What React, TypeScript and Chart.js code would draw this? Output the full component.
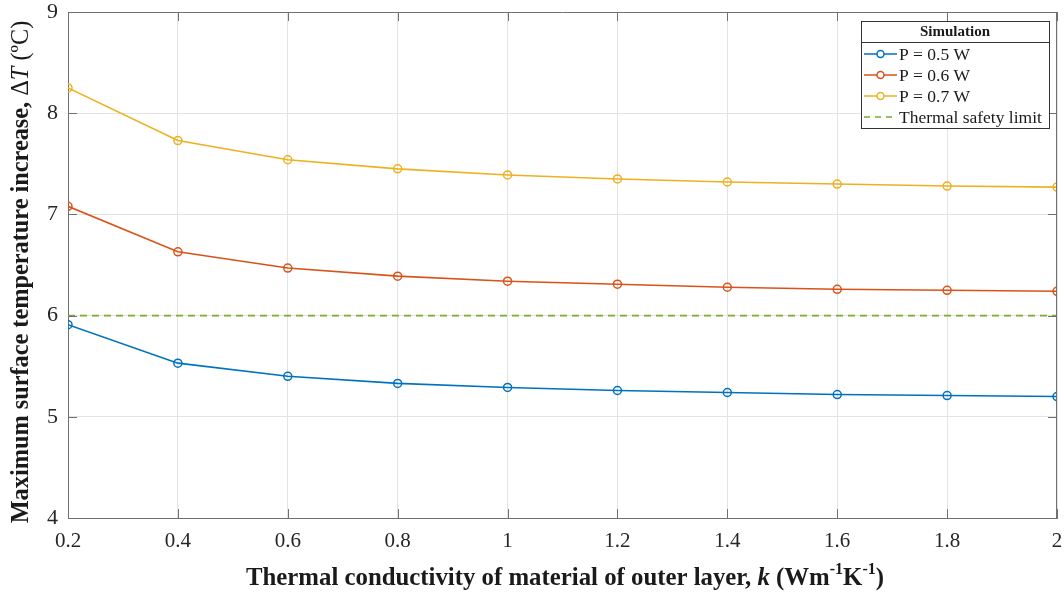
import React, { useEffect, useRef } from "react";
import { Chart, registerables } from "chart.js";

Chart.register(...registerables);

// ---- data ----
const kValues = [0.2, 0.4, 0.6, 0.8, 1.0, 1.2, 1.4, 1.6, 1.8, 2.0];
const p05 = [5.91, 5.53, 5.40, 5.33, 5.29, 5.26, 5.24, 5.22, 5.21, 5.20];
const p06 = [7.08, 6.63, 6.47, 6.39, 6.34, 6.31, 6.28, 6.26, 6.25, 6.24];
const p07 = [8.25, 7.73, 7.54, 7.45, 7.39, 7.35, 7.32, 7.30, 7.28, 7.27];
const safetyLimit = 6;
const xTicks = [0.2, 0.4, 0.6, 0.8, 1, 1.2, 1.4, 1.6, 1.8, 2];
const yTicks = [4, 5, 6, 7, 8, 9];
const seriesNames = ["P = 0.5 W", "P = 0.6 W", "P = 0.7 W", "Thermal safety limit"];
const legendTitle = "Simulation";

const COLORS = ["#0072BD", "#D95319", "#EDB120", "#77AC30"];
const SERIF = "'Liberation Serif', 'Times New Roman', serif";
const AXIS = "#707070";

type Seg = { t: string; w?: string; s?: string; size?: number; dy?: number };

function drawRich(ctx: CanvasRenderingContext2D, segs: Seg[], cx: number, cy: number, base: number) {
  const font = (g: Seg) => `${g.s || "normal"} ${g.w || "normal"} ${g.size || base}px ${SERIF}`;
  let total = 0;
  for (const g of segs) {
    ctx.font = font(g);
    total += ctx.measureText(g.t).width;
  }
  let x = cx - total / 2;
  ctx.textBaseline = "middle";
  ctx.textAlign = "left";
  for (const g of segs) {
    ctx.font = font(g);
    ctx.fillText(g.t, x, cy + (g.dy || 0));
    x += ctx.measureText(g.t).width;
  }
}

const decorPlugin = {
  id: "decor",
  afterDraw(chart: any) {
    const ctx: CanvasRenderingContext2D = chart.ctx;
    const { left, right, top, bottom } = chart.chartArea;
    const xs = chart.scales.x;
    const ys = chart.scales.y;
    ctx.save();
    // box
    ctx.strokeStyle = AXIS;
    ctx.lineWidth = 1;
    ctx.beginPath();
    ctx.moveTo(left, top + 0.5);
    ctx.lineTo(right, top + 0.5);
    ctx.moveTo(right - 0.5, top);
    ctx.lineTo(right - 0.5, bottom);
    ctx.stroke();
    // inward ticks
    const tl = 9;
    ctx.beginPath();
    for (const v of xTicks) {
      const px = Math.round(xs.getPixelForValue(v)) + 0.5;
      ctx.moveTo(px, bottom);
      ctx.lineTo(px, bottom - tl);
      ctx.moveTo(px, top);
      ctx.lineTo(px, top + tl);
    }
    for (const v of yTicks) {
      const py = Math.round(ys.getPixelForValue(v)) + 0.5;
      ctx.moveTo(left, py);
      ctx.lineTo(left + tl, py);
      ctx.moveTo(right, py);
      ctx.lineTo(right - tl, py);
    }
    ctx.stroke();

    // axis titles
    ctx.fillStyle = "#1a1a1a";
    drawRich(
      ctx,
      [
        { t: "Thermal conductivity of material of outer layer, ", w: "bold" },
        { t: "k", w: "bold", s: "italic" },
        { t: " (Wm", w: "bold" },
        { t: "-1", w: "bold", size: 16, dy: -9 },
        { t: "K", w: "bold" },
        { t: "-1", w: "bold", size: 16, dy: -9 },
        { t: ")", w: "bold" },
      ],
      565,
      579,
      24.8
    );
    ctx.save();
    ctx.translate(22, 272);
    ctx.rotate(-Math.PI / 2);
    drawRich(
      ctx,
      [
        { t: "Maximum surface temperature increase, ", w: "bold" },
        { t: "Δ", w: "normal" },
        { t: "T", w: "normal", s: "italic" },
        { t: " (ºC)", w: "normal" },
      ],
      0,
      0,
      24.3
    );
    ctx.restore();

    // legend
    const lx = 861, ly = 21, lw = 188, lh = 107;
    ctx.fillStyle = "#ffffff";
    ctx.fillRect(lx, ly, lw, lh);
    ctx.strokeStyle = "#333";
    ctx.lineWidth = 1;
    ctx.strokeRect(lx + 0.5, ly + 0.5, lw, lh);
    ctx.beginPath();
    ctx.moveTo(lx, ly + 21.5);
    ctx.lineTo(lx + lw, ly + 21.5);
    ctx.stroke();
    ctx.fillStyle = "#1a1a1a";
    ctx.font = `bold 15px ${SERIF}`;
    ctx.textAlign = "center";
    ctx.textBaseline = "middle";
    ctx.fillText(legendTitle, lx + lw / 2, ly + 11);
    const rowsY = [54, 75, 96, 117];
    seriesNames.forEach((name, i) => {
      const y = rowsY[i];
      ctx.strokeStyle = COLORS[i];
      ctx.lineWidth = 1.5;
      ctx.setLineDash(i === 3 ? [6, 5] : []);
      ctx.beginPath();
      ctx.moveTo(864, y);
      ctx.lineTo(897, y);
      ctx.stroke();
      ctx.setLineDash([]);
      if (i < 3) {
        ctx.fillStyle = "#fff";
        ctx.beginPath();
        ctx.arc(880.5, y, 3.5, 0, Math.PI * 2);
        ctx.fill();
        ctx.stroke();
      }
      ctx.fillStyle = "#1a1a1a";
      ctx.font = `17.5px ${SERIF}`;
      ctx.textAlign = "left";
      ctx.fillText(name, 899, y + 1);
    });
    ctx.restore();
  },
};

function toPts(ys: number[]) {
  return kValues.map((k, i) => ({ x: k, y: ys[i] }));
}

export default function App() {
  const ref = useRef<HTMLCanvasElement | null>(null);
  useEffect(() => {
    if (!ref.current) return;
    const lineDs = (label: string, ys: number[], color: string) => ({
      label,
      data: toPts(ys),
      borderColor: color,
      backgroundColor: color,
      borderWidth: 1.6,
      pointRadius: 4,
      pointBorderWidth: 1.5,
      pointBackgroundColor: "rgba(255,255,255,0)",
      pointBorderColor: color,
      tension: 0,
    });
    const chart = new Chart(ref.current, {
      type: "line",
      data: {
        datasets: [
          lineDs(seriesNames[0], p05, COLORS[0]),
          lineDs(seriesNames[1], p06, COLORS[1]),
          lineDs(seriesNames[2], p07, COLORS[2]),
          {
            label: seriesNames[3],
            data: [
              { x: kValues[0], y: safetyLimit },
              { x: kValues[kValues.length - 1], y: safetyLimit },
            ],
            borderColor: COLORS[3],
            borderWidth: 1.6,
            borderDash: [7, 5],
            pointRadius: 0,
          } as any,
        ],
      },
      options: {
        animation: false,
        responsive: false,
        maintainAspectRatio: false,
        layout: { padding: { top: 12, right: 7, left: 0, bottom: 0 } },
        plugins: { legend: { display: false }, tooltip: { enabled: false } },
        scales: {
          x: {
            type: "linear",
            min: 0.2,
            max: 2,
            afterBuildTicks: (s: any) => {
              s.ticks = xTicks.map((v) => ({ value: v }));
            },
            afterFit: (s: any) => {
              s.height = 76;
              s.paddingLeft = 0;
              s.paddingRight = 0;
            },
            ticks: {
              autoSkip: false,
              maxRotation: 0,
              padding: 11,
              color: "#262626",
              font: { family: SERIF, size: 21 },
              callback: (v: any) => String(parseFloat(Number(v).toFixed(1))),
            },
            grid: { color: "#e3e3e3", drawTicks: false },
            border: { display: true, color: AXIS, width: 1 },
          },
          y: {
            type: "linear",
            min: 4,
            max: 9,
            afterBuildTicks: (s: any) => {
              s.ticks = yTicks.map((v) => ({ value: v }));
            },
            afterFit: (s: any) => {
              s.width = 68;
              s.paddingTop = 0;
              s.paddingBottom = 0;
            },
            ticks: {
              padding: 10,
              color: "#262626",
              font: { family: SERIF, size: 22 },
              callback: (v: any) => String(v),
            },
            grid: { color: "#e3e3e3", drawTicks: false },
            border: { display: true, color: AXIS, width: 1 },
          },
        },
      } as any,
      plugins: [decorPlugin],
    });
    return () => chart.destroy();
  }, []);
  return (
    <div style={{ position: "fixed", left: 0, top: 0, width: 1064, height: 594, background: "#fff" }}>
      <canvas ref={ref} width={1064} height={594} style={{ width: 1064, height: 594 }} />
    </div>
  );
}
